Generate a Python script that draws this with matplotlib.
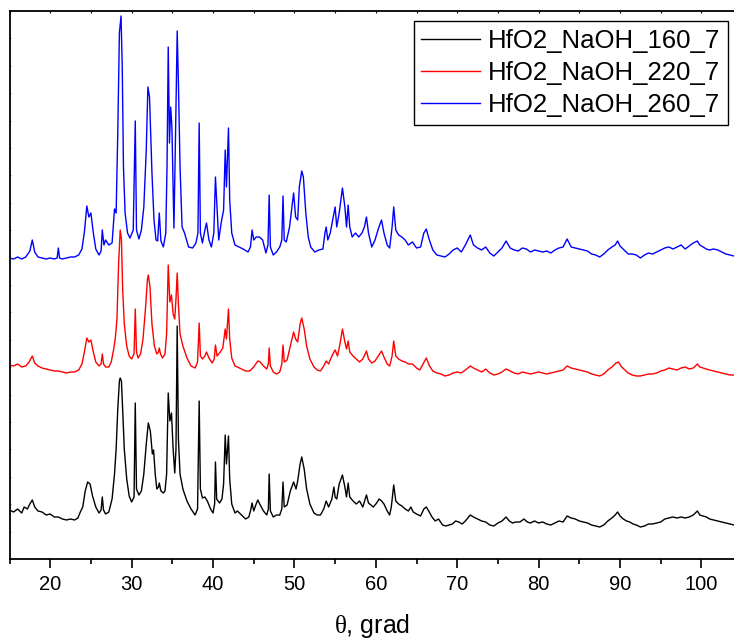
import numpy as np
import matplotlib
matplotlib.use("Agg")
import matplotlib.pyplot as plt
from matplotlib.ticker import MultipleLocator

# XRD patterns: (theta, intensity a.u.)
pts_160 = [
    (15.0, 49), (15.5, 47), (16.0, 50), (16.5, 46), (16.8, 52), (17.2, 50), (17.5, 55), (17.8, 59),
    (18.1, 52), (18.5, 48), (19.0, 47), (19.5, 44), (20.0, 45), (20.5, 42), (21.0, 42), (21.5, 40),
    (22.0, 39), (22.5, 40), (23.0, 39), (23.4, 41), (23.7, 47), (24.0, 52), (24.3, 68), (24.6, 77),
    (24.9, 75), (25.2, 63), (25.6, 52), (26.0, 46), (26.25, 49), (26.4, 62), (26.55, 49), (26.8, 45),
    (27.2, 47), (27.6, 60), (27.9, 85), (28.1, 110), (28.3, 150), (28.5, 178), (28.6, 181), (28.75, 178),
    (28.9, 150), (29.1, 110), (29.4, 80), (29.7, 63), (30.0, 57), (30.3, 62), (30.45, 156), (30.6, 70),
    (30.9, 64), (31.2, 68), (31.5, 85), (31.8, 115), (32.05, 136), (32.3, 128), (32.55, 105), (32.7, 109),
    (32.9, 85), (33.1, 70), (33.3, 72), (33.4, 76), (33.6, 68), (33.9, 66), (34.1, 68), (34.3, 85),
    (34.5, 166), (34.7, 138), (34.9, 146), (35.1, 110), (35.3, 86), (35.45, 110), (35.6, 233), (35.75, 120),
    (35.95, 85), (36.3, 70), (36.8, 58), (37.3, 50), (37.8, 44), (38.1, 50), (38.3, 158), (38.45, 70),
    (38.7, 61), (39.0, 62), (39.3, 58), (39.7, 50), (40.0, 46), (40.2, 55), (40.3, 97), (40.45, 60),
    (40.8, 56), (41.1, 60), (41.3, 75), (41.5, 124), (41.65, 95), (41.9, 123), (42.05, 80), (42.3, 55),
    (42.7, 46), (43.0, 48), (43.5, 44), (44.0, 40), (44.4, 42), (44.6, 48), (44.8, 56), (45.0, 48),
    (45.3, 55), (45.5, 59), (45.8, 54), (46.2, 48), (46.6, 44), (46.8, 50), (46.9, 85), (47.05, 48),
    (47.4, 42), (47.8, 44), (48.2, 44), (48.45, 50), (48.6, 77), (48.75, 52), (49.1, 54), (49.5, 68),
    (49.9, 77), (50.2, 70), (50.4, 78), (50.7, 95), (50.9, 102), (51.2, 90), (51.5, 70), (51.9, 55),
    (52.4, 46), (52.8, 44), (53.2, 44), (53.6, 50), (53.9, 58), (54.2, 52), (54.6, 60), (54.85, 72),
    (55.0, 62), (55.2, 60), (55.5, 75), (55.9, 84), (56.2, 72), (56.4, 62), (56.6, 76), (56.8, 62),
    (57.2, 58), (57.6, 55), (58.0, 58), (58.4, 52), (58.85, 64), (59.1, 56), (59.4, 54), (59.7, 52),
    (60.1, 56), (60.4, 60), (60.7, 58), (61.0, 55), (61.4, 48), (61.7, 44), (61.9, 52), (62.2, 74),
    (62.45, 58), (62.8, 55), (63.2, 53), (63.6, 50), (64.0, 48), (64.3, 52), (64.6, 47), (65.0, 45),
    (65.5, 43), (65.9, 50), (66.2, 52), (66.5, 48), (66.9, 42), (67.3, 38), (67.7, 40), (68.2, 34),
    (68.6, 33), (69.0, 34), (69.4, 35), (69.8, 38), (70.2, 37), (70.6, 35), (71.0, 38), (71.6, 44),
    (72.0, 42), (72.5, 40), (73.0, 38), (73.5, 37), (74.0, 34), (74.5, 33), (75.0, 36), (75.5, 38),
    (76.0, 42), (76.4, 38), (76.8, 36), (77.2, 37), (77.7, 37), (78.2, 40), (78.6, 37), (79.0, 36),
    (79.5, 38), (80.0, 36), (80.5, 37), (81.0, 35), (81.5, 34), (82.0, 36), (82.5, 38), (83.0, 37),
    (83.5, 43), (84.0, 41), (84.5, 40), (85.0, 38), (85.5, 37), (86.0, 36), (86.5, 34), (87.0, 33),
    (87.5, 32), (88.0, 34), (88.5, 38), (89.0, 41), (89.4, 44), (89.7, 47), (90.0, 43), (90.4, 40),
    (90.8, 38), (91.2, 37), (91.6, 35), (92.0, 34), (92.5, 32), (93.0, 33), (93.5, 35), (94.0, 35),
    (94.5, 36), (95.0, 37), (95.5, 40), (96.0, 41), (96.5, 42), (97.0, 41), (97.5, 42), (98.0, 41),
    (98.5, 42), (99.0, 44), (99.5, 48), (99.8, 44), (100.2, 43), (100.6, 42), (101.0, 40), (101.5, 39),
    (102.0, 38), (102.5, 37), (103.0, 36), (103.5, 35), (104.0, 34),
]

pts_220 = [
    (15.0, 49), (15.5, 48), (16.0, 50), (16.5, 47), (17.0, 48), (17.4, 52), (17.8, 58), (18.1, 51),
    (18.5, 48), (19.0, 46), (19.5, 45), (20.0, 44), (20.5, 43), (21.0, 43), (21.5, 42), (22.0, 41),
    (22.5, 42), (23.0, 42), (23.5, 44), (23.9, 50), (24.2, 62), (24.5, 76), (24.75, 72), (25.0, 74),
    (25.3, 62), (25.6, 52), (26.0, 48), (26.25, 50), (26.4, 60), (26.55, 50), (26.8, 47), (27.2, 47),
    (27.5, 52), (27.8, 65), (28.0, 76), (28.2, 95), (28.4, 150), (28.6, 184), (28.75, 175), (28.9, 125),
    (29.1, 90), (29.4, 68), (29.7, 58), (30.0, 55), (30.3, 60), (30.45, 105), (30.6, 62), (30.8, 56),
    (31.1, 60), (31.4, 75), (31.7, 105), (31.95, 135), (32.05, 139), (32.25, 128), (32.5, 90), (32.8, 68),
    (33.1, 60), (33.3, 62), (33.4, 66), (33.55, 60), (33.8, 56), (34.1, 60), (34.3, 80), (34.5, 149),
    (34.7, 112), (34.9, 119), (35.1, 100), (35.3, 95), (35.45, 115), (35.6, 141), (35.75, 110), (35.95, 80),
    (36.3, 68), (36.8, 56), (37.3, 48), (37.8, 46), (38.1, 52), (38.3, 91), (38.45, 58), (38.7, 55),
    (39.0, 58), (39.2, 62), (39.5, 56), (39.9, 51), (40.15, 55), (40.3, 69), (40.5, 58), (40.9, 62),
    (41.2, 66), (41.5, 85), (41.65, 75), (41.9, 105), (42.05, 75), (42.3, 56), (42.7, 48), (43.0, 47),
    (43.5, 45), (44.0, 43), (44.5, 43), (45.0, 47), (45.5, 53), (45.8, 52), (46.2, 48), (46.6, 45),
    (46.8, 50), (46.9, 66), (47.05, 48), (47.4, 42), (47.8, 40), (48.2, 42), (48.45, 50), (48.6, 69),
    (48.75, 52), (49.1, 54), (49.5, 68), (49.9, 82), (50.15, 75), (50.4, 72), (50.7, 90), (50.9, 96),
    (51.2, 85), (51.5, 68), (51.9, 55), (52.4, 47), (52.8, 44), (53.2, 43), (53.6, 48), (53.9, 53),
    (54.2, 50), (54.6, 58), (55.0, 64), (55.3, 58), (55.6, 70), (55.9, 85), (56.2, 72), (56.4, 65),
    (56.6, 73), (56.8, 62), (57.2, 58), (57.6, 55), (58.0, 52), (58.4, 55), (58.85, 63), (59.1, 55),
    (59.5, 51), (59.9, 53), (60.3, 58), (60.7, 63), (61.0, 57), (61.4, 50), (61.7, 48), (62.0, 58),
    (62.2, 73), (62.45, 58), (62.8, 55), (63.2, 53), (63.6, 52), (64.0, 50), (64.5, 50), (65.0, 46),
    (65.4, 44), (65.8, 50), (66.2, 56), (66.6, 48), (67.0, 43), (67.5, 41), (68.0, 40), (68.5, 38),
    (69.0, 39), (69.5, 41), (70.0, 42), (70.5, 41), (71.0, 44), (71.6, 48), (72.0, 46), (72.5, 44),
    (73.0, 42), (73.5, 45), (74.0, 41), (74.5, 39), (75.0, 40), (75.5, 42), (76.0, 45), (76.5, 43),
    (77.0, 41), (77.5, 40), (78.0, 42), (78.5, 41), (79.0, 40), (79.5, 41), (80.0, 42), (80.5, 41),
    (81.0, 40), (81.5, 41), (82.0, 42), (82.5, 43), (83.0, 44), (83.5, 48), (84.0, 46), (84.5, 45),
    (85.0, 44), (85.5, 43), (86.0, 42), (86.5, 40), (87.0, 39), (87.5, 38), (88.0, 40), (88.5, 44),
    (89.0, 47), (89.5, 51), (89.8, 52), (90.2, 47), (90.6, 44), (91.0, 41), (91.5, 39), (92.0, 38),
    (92.5, 38), (93.0, 39), (93.5, 40), (94.0, 40), (94.5, 41), (95.0, 43), (95.5, 44), (96.0, 46),
    (96.5, 45), (97.0, 44), (97.5, 46), (98.0, 47), (98.5, 45), (99.0, 46), (99.5, 50), (99.8, 47),
    (100.2, 46), (100.6, 45), (101.0, 44), (101.5, 43), (102.0, 42), (102.5, 41), (103.0, 40), (103.5, 39),
    (104.0, 39),
]

pts_260 = [
    (15.0, 49), (15.5, 48), (16.0, 50), (16.5, 48), (17.0, 50), (17.5, 56), (17.8, 67), (18.1, 55),
    (18.5, 50), (19.0, 49), (19.5, 48), (20.0, 49), (20.5, 48), (20.85, 49), (21.0, 59), (21.15, 49),
    (21.5, 48), (22.0, 49), (22.5, 50), (23.0, 50), (23.5, 52), (23.9, 58), (24.2, 75), (24.5, 101),
    (24.75, 90), (25.0, 94), (25.3, 74), (25.6, 58), (26.0, 52), (26.25, 56), (26.4, 77), (26.6, 62),
    (26.8, 67), (27.2, 62), (27.6, 64), (27.9, 98), (28.1, 94), (28.3, 174), (28.5, 274), (28.7, 291),
    (28.85, 240), (29.0, 140), (29.2, 94), (29.5, 74), (29.8, 69), (30.2, 77), (30.45, 186), (30.6, 77),
    (30.9, 68), (31.2, 77), (31.5, 100), (31.8, 157), (32.0, 220), (32.2, 210), (32.5, 134), (32.75, 87),
    (33.0, 67), (33.2, 66), (33.4, 94), (33.6, 66), (33.9, 60), (34.2, 74), (34.35, 140), (34.5, 260),
    (34.65, 164), (34.8, 200), (34.95, 180), (35.2, 79), (35.4, 174), (35.6, 276), (35.75, 224), (35.95, 140),
    (36.2, 80), (36.5, 74), (37.0, 60), (37.5, 59), (37.9, 64), (38.15, 74), (38.3, 184), (38.45, 74),
    (38.7, 64), (39.0, 77), (39.2, 84), (39.5, 67), (39.8, 60), (40.1, 74), (40.3, 130), (40.45, 107),
    (40.7, 67), (41.0, 84), (41.3, 97), (41.5, 157), (41.65, 120), (41.9, 179), (42.05, 107), (42.3, 74),
    (42.7, 62), (43.2, 60), (43.7, 58), (44.3, 55), (44.6, 60), (44.8, 77), (45.0, 67), (45.3, 70),
    (45.7, 70), (46.1, 67), (46.5, 54), (46.75, 62), (46.9, 112), (47.05, 60), (47.4, 52), (47.8, 55),
    (48.2, 60), (48.45, 67), (48.6, 111), (48.75, 67), (49.0, 65), (49.4, 80), (49.7, 100), (49.9, 114),
    (50.15, 90), (50.4, 87), (50.6, 120), (50.9, 136), (51.1, 130), (51.4, 94), (51.7, 70), (52.0, 60),
    (52.5, 55), (53.0, 57), (53.5, 58), (53.75, 74), (53.9, 80), (54.1, 67), (54.4, 74), (54.7, 87),
    (55.0, 100), (55.2, 80), (55.5, 94), (55.9, 119), (56.2, 100), (56.4, 80), (56.6, 102), (56.8, 80),
    (57.1, 70), (57.5, 74), (57.9, 70), (58.3, 74), (58.6, 80), (58.85, 90), (59.1, 74), (59.5, 60),
    (59.9, 67), (60.3, 78), (60.7, 87), (61.0, 74), (61.4, 62), (61.7, 59), (62.0, 80), (62.2, 100),
    (62.45, 77), (62.8, 72), (63.2, 70), (63.6, 67), (64.0, 62), (64.5, 65), (65.0, 59), (65.5, 60),
    (65.9, 74), (66.2, 78), (66.5, 69), (67.0, 57), (67.5, 52), (68.0, 51), (68.5, 50), (69.0, 53),
    (69.5, 57), (70.0, 59), (70.5, 55), (71.0, 62), (71.6, 72), (72.0, 62), (72.5, 59), (73.0, 57),
    (73.5, 60), (74.0, 54), (74.5, 51), (75.0, 55), (75.5, 59), (76.0, 66), (76.5, 59), (77.0, 57),
    (77.5, 56), (78.0, 59), (78.5, 58), (79.0, 55), (79.5, 57), (80.0, 56), (80.5, 55), (81.0, 56),
    (81.5, 54), (82.0, 57), (82.5, 59), (83.0, 60), (83.5, 68), (84.0, 60), (84.5, 59), (85.0, 58),
    (85.5, 57), (86.0, 56), (86.5, 53), (87.0, 52), (87.5, 50), (88.0, 53), (88.5, 57), (89.0, 60),
    (89.4, 62), (89.7, 66), (90.0, 61), (90.5, 57), (91.0, 53), (91.5, 53), (92.0, 52), (92.5, 49),
    (93.0, 52), (93.5, 54), (94.0, 53), (94.5, 55), (95.0, 57), (95.5, 59), (96.0, 60), (96.5, 58),
    (97.0, 60), (97.5, 62), (98.0, 58), (98.5, 61), (99.0, 64), (99.5, 66), (99.8, 62), (100.2, 60),
    (100.6, 58), (101.0, 57), (101.5, 58), (102.0, 57), (102.5, 55), (103.0, 53), (103.5, 52), (104.0, 51),
]

labels = ["HfO2_NaOH_160_7", "HfO2_NaOH_220_7", "HfO2_NaOH_260_7"]
offsets = [0, 145, 252]
colors = ["black", "red", "blue"]

plt.rcParams["font.family"] = ["Liberation Sans", "DejaVu Sans"]
plt.rcParams["mathtext.fontset"] = "custom"
plt.rcParams["mathtext.rm"] = "Liberation Serif"

fig = plt.figure(figsize=(7.34, 6.4), dpi=100)
ax = fig.add_axes([9.5 / 734, 81 / 640, 724.5 / 734, 548 / 640])

for pts, off, c, lab in zip([pts_160, pts_220, pts_260], offsets, colors, labels):
    arr = np.array(pts, dtype=float)
    ax.plot(arr[:, 0], arr[:, 1] + off, color=c, lw=1.0, label=lab)

ax.set_xlim(15, 104)
ax.set_ylim(0, 548)

ax.xaxis.set_major_locator(MultipleLocator(10))
ax.xaxis.set_minor_locator(MultipleLocator(5))
ax.yaxis.set_major_locator(MultipleLocator(27.4))
ax.tick_params(axis="x", which="major", direction="out", length=6.5, width=1.2,
               labelsize=14.5, pad=5)
ax.tick_params(axis="x", which="minor", direction="out", length=3.5, width=1.2)
# tiny marks on the top spine, like the original plot
sec = ax.secondary_xaxis("top")
sec.xaxis.set_major_locator(MultipleLocator(5))
sec.tick_params(direction="in", length=1.5, width=0.8, labeltop=False)
sec.spines["top"].set_visible(False)
ax.tick_params(axis="y", which="major", direction="in", length=1.0, width=0.6,
               labelleft=False, color="#666666")
ax.spines["right"].set_visible(False)
for s in ["left", "top", "bottom"]:
    ax.spines[s].set_linewidth(1.3)

ax.set_xlabel(r"$\mathrm{\theta}$, grad", fontsize=18, labelpad=13)

leg = ax.legend(loc="upper right", bbox_to_anchor=(728 / 734, 1 - 21 / 640),
                bbox_transform=fig.transFigure, borderaxespad=0, fontsize=18.5,
                frameon=True, fancybox=False, edgecolor="black", framealpha=1,
                handlelength=2.3, handletextpad=0.3, labelspacing=0.32, borderpad=0.3)
leg.get_frame().set_linewidth(1.0)

fig.savefig("out.png", dpi=100)
